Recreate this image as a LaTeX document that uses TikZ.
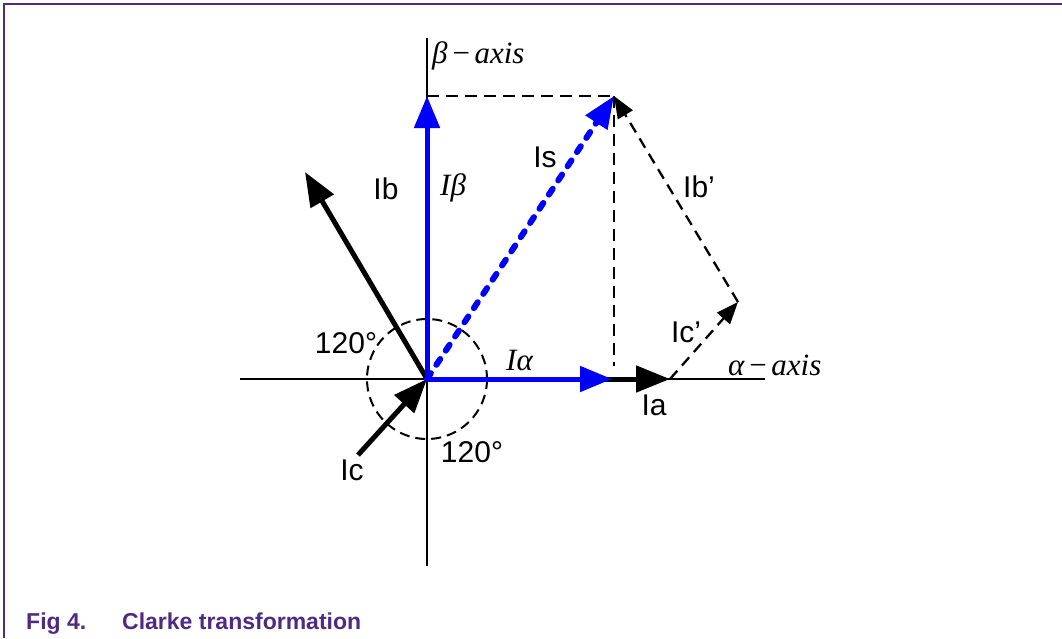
\documentclass[tikz,border=0pt]{standalone}
\usepackage{fontspec}
\setmainfont{Liberation Sans}
\newfontfamily\grkfont{Liberation Serif}
\usetikzlibrary{arrows.meta}
\definecolor{figPurple}{HTML}{4F2A83}
\definecolor{vecBlue}{HTML}{0000FF}
\tikzset{
  axisline/.style={line width=1.4pt,black},
  vblack/.style={-{Triangle[length=34pt,width=26pt]},line width=5pt,black},
  vblue/.style={-{Triangle[length=32pt,width=25pt]},line width=5pt,vecBlue},
  vdots/.style={-{Triangle[length=32pt,width=25pt]},line width=6pt,vecBlue,
    dash pattern=on 7pt off 10pt,line cap=round},
  projline/.style={line width=2.3pt,black,dash pattern=on 12pt off 7pt},
  projvec/.style={-{Triangle[length=22pt,width=17pt]},line width=2.3pt,black,
    dash pattern=on 11pt off 7pt},
  anglecirc/.style={line width=2pt,black,dash pattern=on 10pt off 6pt},
  lbl/.style={font=\fontsize{30}{33}\selectfont,inner sep=0pt},
  glbl/.style={font=\fontsize{31}{34}\selectfont\grkfont\itshape,inner sep=0pt},
  caption/.style={font=\fontsize{23}{26}\selectfont\bfseries,text=figPurple,inner sep=0pt},
}
\begin{document}
\begin{tikzpicture}[x=1pt,y=-1pt]
  \useasboundingbox (0,0) rectangle (1062,638);
  \draw[figPurple,line width=1.5pt] (4,638) -- (4,4) -- (1062,4);

  % axes
  \coordinate (O) at (427,379);
  \coordinate (xl) at (240,379);
  \coordinate (xr) at (765,379);
  \coordinate (yt) at (427,38);
  \coordinate (yb) at (427,566);
  \draw[axisline] (xl) -- (xr);
  \draw[axisline] (yt) -- (yb);

  % vector tips
  \coordinate (S) at (614,96);
  \coordinate (Bt) at (427,96);
  \coordinate (At) at (612,379);
  \coordinate (Aa) at (670,379);
  \coordinate (Cp) at (738,302);
  \coordinate (Bb) at (305,172);
  \coordinate (Cc) at (358,455);
  \coordinate (Sf) at (614,366);

  \draw[anglecirc] (O) circle[radius=60];
  \draw[projline] (Bt) -- (S);
  \draw[projline] (S) -- (Sf);
  \draw[projvec] (Aa) -- (Cp);
  \draw[projvec] (Cp) -- (S);

  \draw[vblack] (O) -- (Aa);
  \draw[vblack] (O) -- (Bb);
  \draw[vblack] (Cc) -- (O);
  \draw[vblue] (O) -- (At);
  \draw[vblue] (O) -- (Bt);
  \draw[vdots] (O) -- (S);

  % labels
  \node[glbl,anchor=base west] (lbBeta) at (432,63) {β\kern3pt−\kern3pt axis};
  \node[glbl,anchor=base west] (lbAlpha) at (728,375) {α\kern3pt−\kern3pt axis};
  \node[glbl,anchor=base west] (lbIbeta) at (440,195) {Iβ};
  \node[glbl,anchor=base west] (lbIalpha) at (506,370) {Iα};
  \node[lbl] (lbIs) at (545,157) {Is};
  \node[lbl] (lbIb) at (386,189) {Ib};
  \node[lbl] (lbIbp) at (699,187) {Ib’};
  \node[lbl] (lbIcp) at (686,332) {Ic’};
  \node[lbl] (lbIa) at (654,405) {Ia};
  \node[lbl] (lbIc) at (352,470) {Ic};
  \node[lbl] (lbAngA) at (346,343) {120°};
  \node[lbl] (lbAngB) at (472,452) {120°};

  \node[caption,anchor=base west] (capNum) at (26,629) {Fig 4.};
  \node[caption,anchor=base west] (capText) at (122,629) {Clarke transformation};
\end{tikzpicture}
\end{document}
